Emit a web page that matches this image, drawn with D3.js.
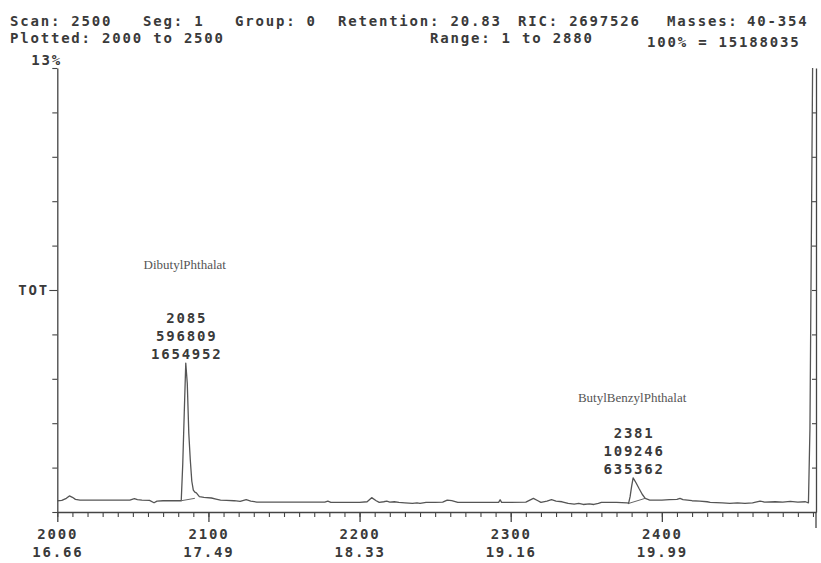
<!DOCTYPE html>
<html>
<head>
<meta charset="utf-8">
<script src="https://cdn.jsdelivr.net/npm/d3@7"></script>
<style>
  html, body { margin: 0; padding: 0; background: #fff; }
  svg { display: block; }
  .mono { font-family: "DejaVu Sans Mono", "Liberation Mono", monospace; font-weight: bold; font-size: 14px; letter-spacing: 1.8px; fill: #3a3a3a; }
  .serif { font-family: "Liberation Serif", "DejaVu Serif", serif; font-size: 13px; fill: #555; }
</style>
</head>
<body>
<svg id="chart" width="821" height="563"></svg>
<script>
// ---- data ----
const scans = [2000,2003,2006,2008,2010,2012,2015,2020,2030,2040,2048,2050,2051,2053,2056,2061,2064,2066,2070,2075,2080,2082,2083,2084,2085,2086,2087,2088,2089,2090,2091,2092,2094,2097,2102,2105,2108,2112,2117,2121,2125,2128,2132,2140,2150,2160,2170,2177,2179,2181,2190,2200,2205,2208,2211,2213,2216,2218,2220,2223,2226,2230,2235,2238,2240,2244,2250,2255,2258,2261,2265,2270,2280,2290,2292,2293,2294,2300,2310,2315,2318,2320,2324,2327,2330,2334,2338,2342,2345,2348,2352,2355,2358,2360,2370,2377,2378,2379,2380,2381,2383,2385,2387,2389,2392,2395,2400,2405,2410,2412,2414,2417,2420,2425,2430,2432,2440,2445,2450,2455,2460,2465,2468,2475,2480,2485,2490,2495,2497,2498,2499,2500];
const percent = [0.33,0.34,0.40,0.47,0.43,0.37,0.35,0.35,0.35,0.35,0.35,0.38,0.39,0.36,0.35,0.34,0.27,0.32,0.33,0.33,0.33,0.33,1.40,2.90,4.36,3.77,2.31,1.52,0.90,0.64,0.58,0.56,0.45,0.43,0.41,0.38,0.35,0.34,0.33,0.31,0.36,0.32,0.29,0.29,0.29,0.29,0.29,0.29,0.32,0.28,0.28,0.28,0.30,0.42,0.33,0.28,0.30,0.32,0.29,0.30,0.28,0.27,0.25,0.27,0.25,0.28,0.28,0.29,0.35,0.33,0.28,0.28,0.28,0.28,0.28,0.36,0.28,0.28,0.29,0.40,0.33,0.28,0.32,0.36,0.32,0.30,0.25,0.23,0.25,0.22,0.24,0.22,0.25,0.28,0.28,0.27,0.25,0.45,0.75,1.00,0.85,0.68,0.52,0.40,0.35,0.35,0.35,0.36,0.37,0.40,0.36,0.35,0.33,0.32,0.30,0.28,0.27,0.25,0.27,0.25,0.27,0.32,0.29,0.30,0.29,0.31,0.29,0.30,0.27,2.45,8.44,14.5];

// integration baselines under the two labelled peaks
const baselineDBP = [[2082, 0.33], [2091, 0.40]];
const baselineBBP = [[2378, 0.25], [2389, 0.40]];

// peak annotations
const peakNames = ["DibutylPhthalat", "ButylBenzylPhthalat"];
const peakScans = [2085, 2381];
const peakHeights = ["596809", "109246"];
const peakAreas = ["1654952", "635362"];

// axis ticks
const majorScans = [2000, 2100, 2200, 2300, 2400];
const retentionLabels = ["16.66", "17.49", "18.33", "19.16", "19.99"];
const minorScans = d3.range(2000, 2501, 10);
const yTicks = d3.range(0, 11).map(i => +(i * 1.3).toFixed(2));

// header texts
const headerLine1 = [["Scan: 2500", 10], ["Seg: 1", 143], ["Group: 0", 235], ["Retention: 20.83", 338], ["RIC: 2697526", 518], ["Masses:", 667], ["40-354", 747]];
const headerLine2 = [["Plotted: 2000 to 2500", 10, 43], ["Range: 1 to 2880", 430, 43], ["100% = 15188035", 647, 47]];

// ---- drawing ----
const svg = d3.select("#chart");
const mLeft = 57.3, mRight = 816, mTop = 68, mBottom = 512;
const x = d3.scaleLinear().domain([2000, 2502]).range([mLeft, mRight]);
const y = d3.scaleLinear().domain([0, 13]).range([mBottom, mTop]);
const ink = "#444";

svg.append("defs").append("clipPath").attr("id", "plotclip")
  .append("rect").attr("x", mLeft).attr("y", mTop).attr("width", mRight - mLeft).attr("height", mBottom - mTop);

// header
const h = svg.append("g");
headerLine1.forEach(([t, px]) => h.append("text").attr("class", "mono").attr("x", px).attr("y", 26).text(t));
headerLine2.forEach(([t, px, py]) => h.append("text").attr("class", "mono").attr("x", px).attr("y", py).text(t));
h.append("text").attr("class", "mono").attr("x", 62).attr("y", 65).attr("text-anchor", "end").text("13%");

// x axis: minor ticks
const xMinor = svg.append("g").attr("transform", `translate(0,${mBottom})`)
  .call(d3.axisBottom(x).tickValues(minorScans).tickSize(5).tickFormat("").tickSizeOuter(0));
xMinor.select(".domain").attr("stroke", ink).attr("stroke-width", 1.3);
xMinor.selectAll(".tick line").attr("stroke", ink).attr("stroke-width", 1.1);

// x axis: major ticks with two-line labels
const xMajor = svg.append("g").attr("transform", `translate(0,${mBottom})`)
  .call(d3.axisBottom(x).tickValues(majorScans).tickSize(10).tickSizeOuter(0).tickFormat(d => d));
xMajor.select(".domain").remove();
xMajor.selectAll(".tick line").attr("stroke", ink).attr("stroke-width", 1.3);
xMajor.selectAll(".tick text").each(function(d, i) {
  const t = d3.select(this);
  t.text(null).attr("class", "mono").attr("y", 0).attr("dy", null).attr("fill", null);
  t.append("tspan").attr("x", 0).attr("y", 27).text(d);
  t.append("tspan").attr("x", 0).attr("y", 45).text(retentionLabels[i]);
});

// left y axis
const yl = svg.append("g").attr("transform", `translate(${mLeft},0)`)
  .call(d3.axisLeft(y).tickValues(yTicks).tickSize(5).tickFormat("").tickSizeOuter(0));
yl.select(".domain").attr("stroke", ink).attr("stroke-width", 1.3);
yl.selectAll(".tick line").attr("stroke", ink).attr("stroke-width", 1.1);
yl.selectAll(".tick").filter(d => d === 6.5).select("line").attr("x2", -8);
svg.append("text").attr("class", "mono").attr("x", 49).attr("y", y(6.5) + 5).attr("text-anchor", "end").text("TOT");

// right y axis (ticks point inward)
const yr = svg.append("g").attr("transform", `translate(${mRight},0)`)
  .call(d3.axisLeft(y).tickValues(yTicks.slice(1, 10)).tickSize(4).tickFormat("").tickSizeOuter(0));
yr.select(".domain").attr("stroke", ink).attr("stroke-width", 1.3);
yr.selectAll(".tick line").attr("stroke", ink).attr("stroke-width", 1.1);
svg.append("line").attr("x1", mRight).attr("x2", mRight).attr("y1", mBottom).attr("y2", mBottom + 16)
  .attr("stroke", ink).attr("stroke-width", 1.3);

// trace
const data = scans.map((s, i) => [s, percent[i]]);
const line = d3.line().x(d => x(d[0])).y(d => y(d[1]));
const plot = svg.append("g").attr("clip-path", "url(#plotclip)");
plot.append("path").datum(data).attr("d", line)
  .attr("fill", "none").attr("stroke", "#555").attr("stroke-width", 1.3).attr("stroke-linejoin", "round");
[baselineDBP, baselineBBP].forEach(b => plot.append("path").datum(b).attr("d", line)
  .attr("fill", "none").attr("stroke", "#666").attr("stroke-width", 1));

// peak annotations
const nameY = [269, 402];
const numY = [[323, 341, 359], [438, 456, 474]];
peakScans.forEach((s, i) => {
  svg.append("text").attr("class", "serif").attr("x", x(s) - 1).attr("y", nameY[i])
    .attr("text-anchor", "middle").text(peakNames[i]);
  [String(s), peakHeights[i], peakAreas[i]].forEach((t, j) =>
    svg.append("text").attr("class", "mono").attr("x", x(s) + 1).attr("y", numY[i][j])
      .attr("text-anchor", "middle").text(t));
});
</script>
</body>
</html>
